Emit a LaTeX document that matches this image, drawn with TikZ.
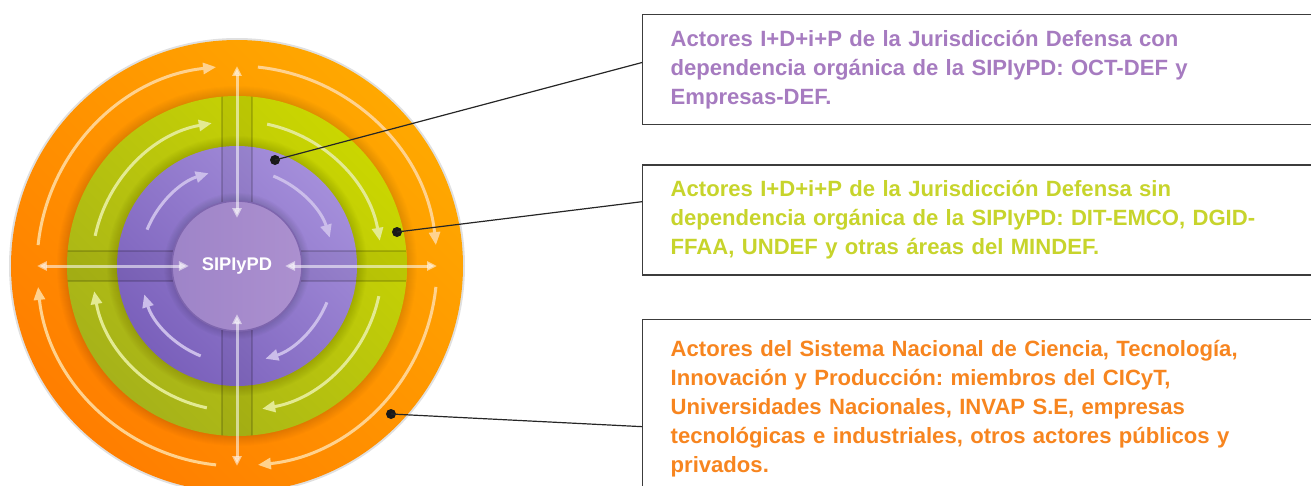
\documentclass[tikz,border=0pt]{standalone}
\usepackage{fontspec}
\setmainfont{Liberation Sans}
\frenchspacing
\usetikzlibrary{arrows.meta, positioning, calc}
\definecolor{orangeA}{HTML}{FF7E00}
\definecolor{orangeB}{HTML}{FFA800}
\definecolor{greenA}{HTML}{A6B21A}
\definecolor{greenB}{HTML}{CAD600}
\definecolor{purpleA}{HTML}{7A60BB}
\definecolor{purpleB}{HTML}{A48EDA}
\definecolor{coreA}{HTML}{9E84C8}
\definecolor{coreB}{HTML}{AC90CF}
\definecolor{coreedge}{HTML}{7E65AE}
\definecolor{txtpurple}{HTML}{A67BC0}
\definecolor{txtgreen}{HTML}{C7D42C}
\definecolor{txtorange}{HTML}{F7851F}
\definecolor{flowor}{HTML}{FFD28E}
\definecolor{flowgr}{HTML}{E3EA92}
\definecolor{flowpu}{HTML}{CBBDEA}
\definecolor{boxline}{HTML}{3C3C3C}
\tikzset{
  infobox/.style={rectangle, draw=boxline, line width=1.3pt, minimum height=110pt, text width=650pt, inner xsep=28pt, align=left, anchor=north west, font=\fontsize{22.1}{29}\selectfont\bfseries},
  marker/.style={circle, fill=black!90, inner sep=0pt, minimum size=10pt},
  leader/.style={draw=black!85, line width=1.2pt},
  flow/.style={line width=3pt, -{Triangle[length=13pt, width=11pt]}},
  cross/.style={line width=3pt, draw=white, opacity=0.55, {Triangle[length=10pt, width=9pt]}-{Triangle[length=10pt, width=9pt]}}
}
\begin{document}
\begin{tikzpicture}[x=1pt, y=1pt]
  \useasboundingbox (-237,-219) rectangle (1074,266);
  % Rings
  \fill[black!12] (0,0) circle (228);
  \shade[left color=orangeA, right color=orangeB, shading angle=135] (0,0) circle (226);
  \foreach \r in {1,...,10}
    \fill[black, opacity=0.012] (0,0) circle (170+\r);
  \shade[left color=greenA, right color=greenB, shading angle=135] (0,0) circle (170);
  \foreach \r in {1,...,10}
    \fill[black, opacity=0.012] (0,0) circle (120+\r);
  \shade[left color=purpleA, right color=purpleB, shading angle=135] (0,0) circle (120);
  \begin{scope}
    \clip (0,0) circle (170);
    \fill[black, opacity=0.05] (-15,-170) rectangle (15,170);
    \fill[black, opacity=0.05] (-170,-15) rectangle (170,15);
    \foreach \s in {-15,15} {
      \draw[black, opacity=0.16, line width=2.5pt] (\s,-170) -- (\s,170);
      \draw[black, opacity=0.16, line width=2.5pt] (-170,\s) -- (170,\s);
    }
  \end{scope}
  \foreach \r in {1,...,8}
    \fill[black, opacity=0.015] (0,0) circle (65+\r);
  \shade[left color=coreA, right color=coreB] (0,0) circle (65);
  \draw[coreedge, line width=1.5pt] (0,0) circle (65);
  % Flows
  \foreach \q in {90,0,-90,-180} {
    \draw[flow, flowor] ({\q+84}:200) arc[start angle=\q+84, end angle=\q+6, radius=200];
    \draw[flow, flowgr] ({\q+78}:145) arc[start angle=\q+78, end angle=\q+10, radius=145];
    \draw[flow, flowpu] ({\q+68}:97) arc[start angle=\q+68, end angle=\q+17, radius=97];
  }
  \foreach \a in {0,90,180,270}
    \draw[cross] (\a:48) -- (\a:200);
  % Nodes
  \node[font=\fontsize{18.3}{18}\selectfont\bfseries, text=white] (sipiypd) at (0,0) {SIPIyPD};
  \node[infobox, text=txtpurple] (defcon) at (405,252) {Actores I+D+i+P de la Jurisdicción Defensa con\\dependencia orgánica de la SIPIyPD: OCT-DEF y\\Empresas-DEF.};
  \node[infobox, text=txtgreen, below=39pt of defcon.south west, anchor=north west] (defsin) {Actores I+D+i+P de la Jurisdicción Defensa sin\\dependencia orgánica de la SIPIyPD: DIT-EMCO, DGID-\\FFAA, UNDEF y otras áreas del MINDEF.};
  \node[infobox, text=txtorange, below=43pt of defsin.south west, anchor=north west, minimum height=0pt, inner ysep=21pt] (sncti) {Actores del Sistema Nacional de Ciencia, Tecnología,\\Innovación y Producción: miembros del CICyT,\\Universidades Nacionales, INVAP S.E, empresas\\tecnológicas e industriales, otros actores públicos y\\privados.};
  \node[marker] (dotcon) at (38,106) {};
  \node[marker] (dotsin) at (160,34) {};
  \node[marker] (dotsncti) at (154,-148) {};
  % Connections
  \draw[leader] (dotcon.center) -- ($(defcon.north west)!0.436!(defcon.south west)$);
  \draw[leader] (dotsin.center) -- ($(defsin.north west)!0.336!(defsin.south west)$);
  \draw[leader] (dotsncti.center) -- ($(sncti.north west)!0.6!(sncti.south west)$);
\end{tikzpicture}
\end{document}
